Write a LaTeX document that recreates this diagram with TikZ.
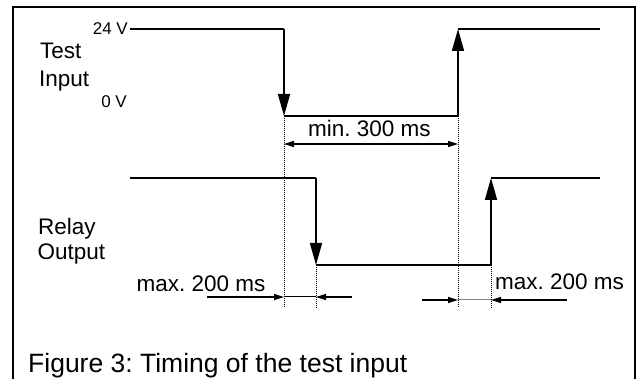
\documentclass[tikz,border=0pt]{standalone}
\usepackage{fontspec}
\setmainfont{Liberation Sans}
\usetikzlibrary{arrows.meta}
\frenchspacing
\begin{document}
\frenchspacing
\begin{tikzpicture}[x=1pt,y=-1pt,
  framestyle/.style={line width=2pt},
  sig/.style={line width=1.7pt},
  bigtip/.style={sig,-{Triangle[length=22pt,width=12pt]}},
  dimarrow/.style={line width=1.3pt,-{Triangle[length=10pt,width=6pt]}},
  dimline/.style={line width=1pt},
  guide/.style={line width=1pt,dash pattern=on 1pt off 1pt},
  lbl/.style={inner sep=0pt,anchor=base west,font=\fontsize{22.5}{27}\selectfont},
  smalllbl/.style={inner sep=0pt,anchor=base east,font=\fontsize{17}{20}\selectfont},
  captionlbl/.style={inner sep=0pt,anchor=base west,font=\fontsize{26.5}{31}\selectfont}]
\useasboundingbox (0,0) rectangle (640,379);
% frame
\draw[framestyle] (13,379) -- (13,7) -- (635,7) -- (635,379);
% test input coordinates
\coordinate (ts) at (130,29);
\coordinate (tfh) at (284,29);
\coordinate (tfl) at (284,116);
\coordinate (trl) at (458,116);
\coordinate (trh) at (458,29);
\coordinate (te) at (600,29);
% relay coordinates
\coordinate (rs) at (130,178);
\coordinate (rfh) at (316,178);
\coordinate (rfl) at (316,265);
\coordinate (rrl) at (491,265);
\coordinate (rrh) at (491,178);
\coordinate (re) at (600,178);
% guides bottoms
\coordinate (g1) at (284,308);
\coordinate (g2) at (458,308);
\coordinate (g3) at (316,308);
\coordinate (g4) at (491,308);
% test input signal
\draw[sig] (ts) -- (tfh);
\draw[bigtip] (tfh) -- (tfl);
\draw[sig] (tfl) -- (trl);
\draw[bigtip] (trl) -- (trh);
\draw[sig] (trh) -- (te);
% relay signal
\draw[sig] (rs) -- (rfh);
\draw[bigtip] (rfh) -- (rfl);
\draw[sig] (rfl) -- (rrl);
\draw[bigtip] (rrl) -- (rrh);
\draw[sig] (rrh) -- (re);
% dotted guides
\draw[guide] (tfl) -- (g1);
\draw[guide] (trl) -- (g2);
\draw[guide] (rfl) -- (g3);
\draw[guide] (rrl) -- (g4);
% min 300 ms
\coordinate (m1) at (284,144);
\coordinate (m2) at (458,144);
\coordinate (mm) at (371,144);
\draw[dimarrow] (mm) -- (m1);
\draw[dimarrow] (mm) -- (m2);
% max 200 ms left
\coordinate (a0) at (207,297);
\coordinate (a1) at (284,297);
\coordinate (a2) at (316,297);
\coordinate (a3) at (352,297);
\draw[dimarrow] (a0) -- (a1);
\draw[dimline] (a1) -- (a2);
\draw[dimarrow] (a3) -- (a2);
% max 200 ms right
\coordinate (b0) at (422,300);
\coordinate (b1) at (458,300);
\coordinate (b2) at (491,300);
\coordinate (b3) at (567,300);
\draw[dimarrow] (b0) -- (b1);
\draw[dimline,gray] (b1) -- (b2);
\draw[dimarrow] (b3) -- (b2);
% labels
\node[smalllbl] (v24) at (128,35) {24 V};
\node[smalllbl] (v0) at (127,108) {0 V};
\node[lbl] (test) at (40,59) {Test};
\node[lbl] (input) at (39,87) {Input};
\node[lbl] (relay) at (38,235) {Relay};
\node[lbl] (output) at (37.5,260) {Output};
\node[lbl] (min) at (308,137) {min. 300 ms};
\node[lbl] (maxl) at (136.5,292) {max. 200 ms};
\node[lbl] (maxr) at (495,290) {max. 200 ms};
\node[captionlbl] (caption) at (28,372) {Figure 3: Timing of the test input};
\end{tikzpicture}
\end{document}
